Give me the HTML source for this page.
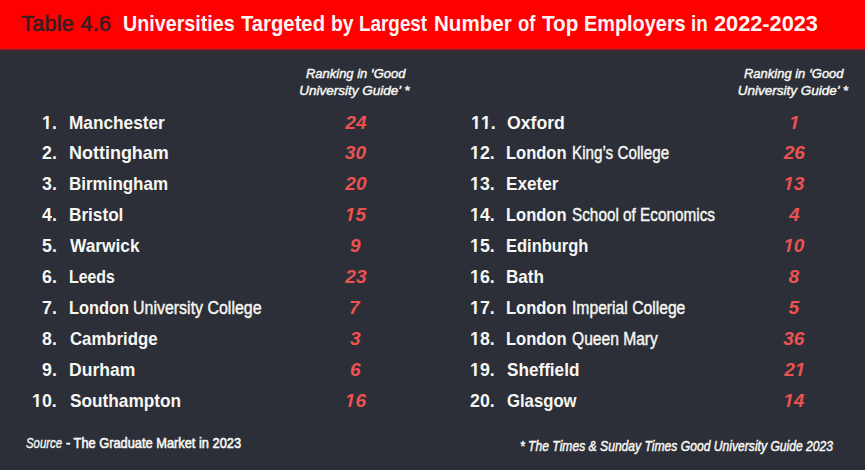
<!DOCTYPE html>
<html><head><meta charset="utf-8">
<style>
*{margin:0;padding:0}
html,body{width:865px;height:470px;overflow:hidden;background:#2c2f37}
body{position:relative;font-family:"Liberation Sans",sans-serif;color:#f7f7f3}
.hdr{position:absolute;left:0;top:0;width:865px;height:52px;background:linear-gradient(to bottom,#ff0000 0,#ff0000 48px,#e01212 48px,#e01212 49px,#8f1a22 49px,#8f1a22 50px,#4a1e2a 50px,#4a1e2a 51px,#352c3a 51px,#352c3a 52px)}
.t{position:absolute;white-space:nowrap;line-height:1;font-weight:bold;transform-origin:0 0}
</style></head><body>
<div class="hdr"></div>
<div class="t" style="left:21.20px;top:14.00px;font-size:21.4px;font-weight:normal;color:#3b1c22;letter-spacing:0.360px;-webkit-text-stroke:0.6px #3b1c22;">Table 4.6</div>
<div class="t" style="left:122.67px;top:13.00px;font-size:21.2px;color:#fff6f6;transform:scaleX(0.9295);">Universities</div>
<div class="t" style="left:240.90px;top:13.00px;font-size:21.2px;color:#fff6f6;transform:scaleX(0.9556);">Targeted</div>
<div class="t" style="left:331.19px;top:13.00px;font-size:21.2px;color:#fff6f6;transform:scaleX(0.9147);">by</div>
<div class="t" style="left:358.71px;top:13.00px;font-size:21.2px;color:#fff6f6;transform:scaleX(0.8903);">Largest</div>
<div class="t" style="left:434.33px;top:13.00px;font-size:21.2px;color:#fff6f6;transform:scaleX(0.9707);">Number</div>
<div class="t" style="left:518.24px;top:13.00px;font-size:21.2px;color:#fff6f6;transform:scaleX(0.8700);">of</div>
<div class="t" style="left:541.60px;top:13.00px;font-size:21.2px;color:#fff6f6;transform:scaleX(0.9756);">Top</div>
<div class="t" style="left:584.36px;top:13.00px;font-size:21.2px;color:#fff6f6;transform:scaleX(0.9385);">Employers</div>
<div class="t" style="left:690.61px;top:13.00px;font-size:21.2px;color:#fff6f6;transform:scaleX(0.8883);">in</div>
<div class="t" style="left:713.80px;top:13.00px;font-size:21.2px;color:#fff6f6;transform:scaleX(1.0252);">2022-2023</div>
<div class="t" style="left:305.80px;top:67.00px;font-size:13.5px;font-weight:normal;font-style:italic;transform:scaleX(0.9601);-webkit-text-stroke:0.45px #f7f7f3;">Ranking in ‘Good</div>
<div class="t" style="left:299.20px;top:84.00px;font-size:13.5px;font-weight:normal;font-style:italic;-webkit-text-stroke:0.45px #f7f7f3;">University Guide’ *</div>
<div class="t" style="left:743.80px;top:67.00px;font-size:13.5px;font-weight:normal;font-style:italic;transform:scaleX(0.9610);-webkit-text-stroke:0.45px #f7f7f3;">Ranking in ‘Good</div>
<div class="t" style="left:737.70px;top:84.00px;font-size:13.5px;font-weight:normal;font-style:italic;-webkit-text-stroke:0.45px #f7f7f3;">University Guide’ *</div>
<div class="t" style="left:41.88px;top:114.00px;font-size:18.5px;transform:scaleX(0.9600);"><span style="display:inline-block;clip-path:polygon(0 0,10.29px 0,10.29px 13.11px,6.86px 13.11px,6.86px 17.00px,4.32px 17.00px,4.32px 13.11px,0 13.11px)">1</span>.</div>
<div class="t" style="left:68.67px;top:114.00px;font-size:18.5px;transform:scaleX(0.9319);">Manchester</div>
<div class="t" style="left:345.32px;top:113.00px;font-size:19px;font-style:italic;color:#ec5250;">24</div>
<div class="t" style="left:41.88px;top:144.00px;font-size:18.5px;transform:scaleX(0.9600);">2.</div>
<div class="t" style="left:68.63px;top:144.00px;font-size:18.5px;transform:scaleX(0.9713);">Nottingham</div>
<div class="t" style="left:344.82px;top:143.00px;font-size:19px;font-style:italic;color:#ec5250;">30</div>
<div class="t" style="left:41.88px;top:175.00px;font-size:18.5px;transform:scaleX(0.9600);">3.</div>
<div class="t" style="left:68.68px;top:175.00px;font-size:18.5px;transform:scaleX(0.9175);">Birmingham</div>
<div class="t" style="left:345.32px;top:174.00px;font-size:19px;font-style:italic;color:#ec5250;">20</div>
<div class="t" style="left:41.88px;top:206.00px;font-size:18.5px;transform:scaleX(0.9600);">4.</div>
<div class="t" style="left:68.67px;top:206.00px;font-size:18.5px;transform:scaleX(0.9283);">Bristol</div>
<div class="t" style="left:344.82px;top:205.00px;font-size:19px;font-style:italic;color:#ec5250;"><span style="display:inline-block;clip-path:polygon(0 0,10.57px 0,10.57px 13.86px,6.55px 13.86px,6.13px 18.00px,3.53px 18.00px,3.94px 13.86px,0 13.86px)">1</span>5</div>
<div class="t" style="left:41.88px;top:237.00px;font-size:18.5px;transform:scaleX(0.9600);">5.</div>
<div class="t" style="left:69.60px;top:237.00px;font-size:18.5px;transform:scaleX(0.9350);">Warwick</div>
<div class="t" style="left:350.10px;top:236.00px;font-size:19px;font-style:italic;color:#ec5250;">9</div>
<div class="t" style="left:41.88px;top:268.00px;font-size:18.5px;transform:scaleX(0.9600);">6.</div>
<div class="t" style="left:68.74px;top:268.00px;font-size:18.5px;transform:scaleX(0.8586);">Leeds</div>
<div class="t" style="left:345.32px;top:267.00px;font-size:19px;font-style:italic;color:#ec5250;">23</div>
<div class="t" style="left:41.88px;top:299.00px;font-size:18.5px;transform:scaleX(0.9600);">7.</div>
<div class="t" style="left:68.71px;top:299.00px;font-size:18.5px;transform:scaleX(0.8857);">London</div>
<div class="t" style="left:133.09px;top:300.00px;font-size:17.5px;font-weight:normal;transform:scaleX(0.9117);-webkit-text-stroke:0.4px #f7f7f3;">University College</div>
<div class="t" style="left:349.10px;top:298.00px;font-size:19px;font-style:italic;color:#ec5250;">7</div>
<div class="t" style="left:41.88px;top:330.00px;font-size:18.5px;transform:scaleX(0.9600);">8.</div>
<div class="t" style="left:69.60px;top:330.00px;font-size:18.5px;transform:scaleX(0.9062);">Cambridge</div>
<div class="t" style="left:350.10px;top:329.00px;font-size:19px;font-style:italic;color:#ec5250;">3</div>
<div class="t" style="left:41.88px;top:361.00px;font-size:18.5px;transform:scaleX(0.9600);">9.</div>
<div class="t" style="left:68.65px;top:361.00px;font-size:18.5px;transform:scaleX(0.9481);">Durham</div>
<div class="t" style="left:350.10px;top:360.00px;font-size:19px;font-style:italic;color:#ec5250;">6</div>
<div class="t" style="left:32.01px;top:392.00px;font-size:18.5px;transform:scaleX(0.9600);"><span style="display:inline-block;clip-path:polygon(0 0,10.29px 0,10.29px 13.11px,6.86px 13.11px,6.86px 17.00px,4.32px 17.00px,4.32px 13.11px,0 13.11px)">1</span>0.</div>
<div class="t" style="left:69.60px;top:392.00px;font-size:18.5px;transform:scaleX(0.9319);">Southampton</div>
<div class="t" style="left:344.82px;top:391.00px;font-size:19px;font-style:italic;color:#ec5250;"><span style="display:inline-block;clip-path:polygon(0 0,10.57px 0,10.57px 13.86px,6.55px 13.86px,6.13px 18.00px,3.53px 18.00px,3.94px 13.86px,0 13.86px)">1</span>6</div>
<div class="t" style="left:470.99px;top:114.00px;font-size:18.5px;transform:scaleX(0.9600);"><span style="display:inline-block;clip-path:polygon(0 0,10.29px 0,10.29px 13.11px,6.86px 13.11px,6.86px 17.00px,4.32px 17.00px,4.32px 13.11px,0 13.11px)">1</span><span style="display:inline-block;clip-path:polygon(0 0,10.29px 0,10.29px 13.11px,6.86px 13.11px,6.86px 17.00px,4.32px 17.00px,4.32px 13.11px,0 13.11px)">1</span>.</div>
<div class="t" style="left:507.00px;top:114.00px;font-size:18.5px;transform:scaleX(0.9546);">Oxford</div>
<div class="t" style="left:789.00px;top:113.00px;font-size:19px;font-style:italic;color:#ec5250;"><span style="display:inline-block;clip-path:polygon(0 0,10.57px 0,10.57px 13.86px,6.55px 13.86px,6.13px 18.00px,3.53px 18.00px,3.94px 13.86px,0 13.86px)">1</span></div>
<div class="t" style="left:470.01px;top:144.00px;font-size:18.5px;transform:scaleX(0.9600);"><span style="display:inline-block;clip-path:polygon(0 0,10.29px 0,10.29px 13.11px,6.86px 13.11px,6.86px 17.00px,4.32px 17.00px,4.32px 13.11px,0 13.11px)">1</span>2.</div>
<div class="t" style="left:506.11px;top:144.00px;font-size:18.5px;transform:scaleX(0.8932);">London</div>
<div class="t" style="left:571.93px;top:145.00px;font-size:17.5px;font-weight:normal;transform:scaleX(0.8705);-webkit-text-stroke:0.4px #f7f7f3;">King’s College</div>
<div class="t" style="left:783.72px;top:143.00px;font-size:19px;font-style:italic;color:#ec5250;">26</div>
<div class="t" style="left:470.01px;top:175.00px;font-size:18.5px;transform:scaleX(0.9600);"><span style="display:inline-block;clip-path:polygon(0 0,10.29px 0,10.29px 13.11px,6.86px 13.11px,6.86px 17.00px,4.32px 17.00px,4.32px 13.11px,0 13.11px)">1</span>3.</div>
<div class="t" style="left:506.07px;top:175.00px;font-size:18.5px;transform:scaleX(0.9284);">Exeter</div>
<div class="t" style="left:783.22px;top:174.00px;font-size:19px;font-style:italic;color:#ec5250;"><span style="display:inline-block;clip-path:polygon(0 0,10.57px 0,10.57px 13.86px,6.55px 13.86px,6.13px 18.00px,3.53px 18.00px,3.94px 13.86px,0 13.86px)">1</span>3</div>
<div class="t" style="left:470.01px;top:206.00px;font-size:18.5px;transform:scaleX(0.9600);"><span style="display:inline-block;clip-path:polygon(0 0,10.29px 0,10.29px 13.11px,6.86px 13.11px,6.86px 17.00px,4.32px 17.00px,4.32px 13.11px,0 13.11px)">1</span>4.</div>
<div class="t" style="left:506.11px;top:206.00px;font-size:18.5px;transform:scaleX(0.8932);">London</div>
<div class="t" style="left:572.10px;top:207.00px;font-size:17.5px;font-weight:normal;transform:scaleX(0.8750);-webkit-text-stroke:0.4px #f7f7f3;">School of Economics</div>
<div class="t" style="left:789.00px;top:205.00px;font-size:19px;font-style:italic;color:#ec5250;">4</div>
<div class="t" style="left:470.01px;top:237.00px;font-size:18.5px;transform:scaleX(0.9600);"><span style="display:inline-block;clip-path:polygon(0 0,10.29px 0,10.29px 13.11px,6.86px 13.11px,6.86px 17.00px,4.32px 17.00px,4.32px 13.11px,0 13.11px)">1</span>5.</div>
<div class="t" style="left:506.11px;top:237.00px;font-size:18.5px;transform:scaleX(0.8905);">Edinburgh</div>
<div class="t" style="left:783.22px;top:236.00px;font-size:19px;font-style:italic;color:#ec5250;"><span style="display:inline-block;clip-path:polygon(0 0,10.57px 0,10.57px 13.86px,6.55px 13.86px,6.13px 18.00px,3.53px 18.00px,3.94px 13.86px,0 13.86px)">1</span>0</div>
<div class="t" style="left:470.01px;top:268.00px;font-size:18.5px;transform:scaleX(0.9600);"><span style="display:inline-block;clip-path:polygon(0 0,10.29px 0,10.29px 13.11px,6.86px 13.11px,6.86px 17.00px,4.32px 17.00px,4.32px 13.11px,0 13.11px)">1</span>6.</div>
<div class="t" style="left:506.08px;top:268.00px;font-size:18.5px;transform:scaleX(0.9244);">Bath</div>
<div class="t" style="left:788.50px;top:267.00px;font-size:19px;font-style:italic;color:#ec5250;">8</div>
<div class="t" style="left:470.01px;top:299.00px;font-size:18.5px;transform:scaleX(0.9600);"><span style="display:inline-block;clip-path:polygon(0 0,10.29px 0,10.29px 13.11px,6.86px 13.11px,6.86px 17.00px,4.32px 17.00px,4.32px 13.11px,0 13.11px)">1</span>7.</div>
<div class="t" style="left:506.11px;top:299.00px;font-size:18.5px;transform:scaleX(0.8932);">London</div>
<div class="t" style="left:571.80px;top:300.00px;font-size:17.5px;font-weight:normal;transform:scaleX(0.8964);-webkit-text-stroke:0.4px #f7f7f3;">Imperial College</div>
<div class="t" style="left:788.50px;top:298.00px;font-size:19px;font-style:italic;color:#ec5250;">5</div>
<div class="t" style="left:470.01px;top:330.00px;font-size:18.5px;transform:scaleX(0.9600);"><span style="display:inline-block;clip-path:polygon(0 0,10.29px 0,10.29px 13.11px,6.86px 13.11px,6.86px 17.00px,4.32px 17.00px,4.32px 13.11px,0 13.11px)">1</span>8.</div>
<div class="t" style="left:506.11px;top:330.00px;font-size:18.5px;transform:scaleX(0.8932);">London</div>
<div class="t" style="left:572.10px;top:331.00px;font-size:17.5px;font-weight:normal;transform:scaleX(0.8918);-webkit-text-stroke:0.4px #f7f7f3;">Queen Mary</div>
<div class="t" style="left:783.22px;top:329.00px;font-size:19px;font-style:italic;color:#ec5250;">36</div>
<div class="t" style="left:470.01px;top:361.00px;font-size:18.5px;transform:scaleX(0.9600);"><span style="display:inline-block;clip-path:polygon(0 0,10.29px 0,10.29px 13.11px,6.86px 13.11px,6.86px 17.00px,4.32px 17.00px,4.32px 13.11px,0 13.11px)">1</span>9.</div>
<div class="t" style="left:507.00px;top:361.00px;font-size:18.5px;transform:scaleX(0.9265);">Sheffield</div>
<div class="t" style="left:784.22px;top:360.00px;font-size:19px;font-style:italic;color:#ec5250;">2<span style="display:inline-block;clip-path:polygon(0 0,10.57px 0,10.57px 13.86px,6.55px 13.86px,6.13px 18.00px,3.53px 18.00px,3.94px 13.86px,0 13.86px)">1</span></div>
<div class="t" style="left:470.01px;top:392.00px;font-size:18.5px;transform:scaleX(0.9600);">20.</div>
<div class="t" style="left:507.00px;top:392.00px;font-size:18.5px;transform:scaleX(0.9021);">Glasgow</div>
<div class="t" style="left:783.22px;top:391.00px;font-size:19px;font-style:italic;color:#ec5250;"><span style="display:inline-block;clip-path:polygon(0 0,10.57px 0,10.57px 13.86px,6.55px 13.86px,6.13px 18.00px,3.53px 18.00px,3.94px 13.86px,0 13.86px)">1</span>4</div>
<div class="t" style="left:25.50px;top:436.00px;font-size:14.5px;font-weight:normal;font-style:italic;transform:scaleX(0.7869);-webkit-text-stroke:0.35px #f7f7f3;">Source</div>
<div class="t" style="left:65.80px;top:436.00px;font-size:14.5px;font-weight:normal;transform:scaleX(0.8839);-webkit-text-stroke:0.6px #f7f7f3;">- The Graduate Market in 2023</div>
<div class="t" style="left:519.70px;top:438.00px;font-size:15px;font-weight:normal;font-style:italic;transform:scaleX(0.8081);-webkit-text-stroke:0.5px #f7f7f3;">* The Times &amp; Sunday Times Good University Guide 2023</div>
</body></html>
